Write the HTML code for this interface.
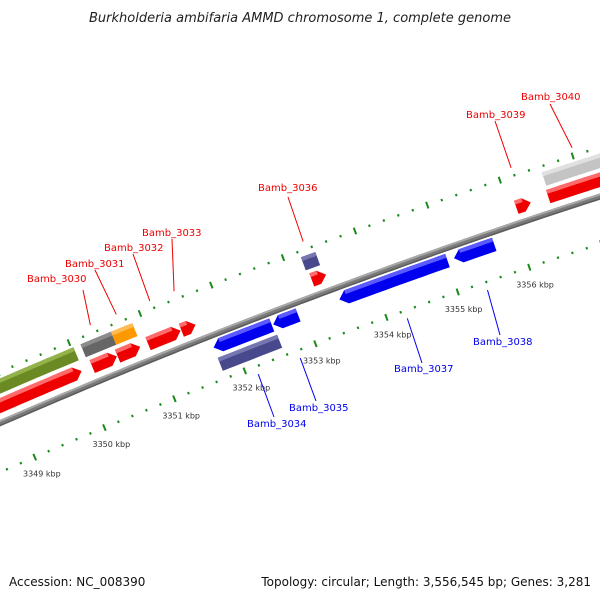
<!DOCTYPE html>
<html><head><meta charset="utf-8"><style>
html,body{margin:0;padding:0;background:#fff;}
svg{display:block;font-family:"DejaVu Sans","Liberation Sans",sans-serif;}
</style></head><body>
<svg id="chart" width="600" height="600" viewBox="0 0 600 600" xmlns="http://www.w3.org/2000/svg">
<text x="300" y="22" text-anchor="middle" font-size="13" font-style="italic" fill="#222">Burkholderia ambifaria AMMD chromosome 1, complete genome</text>
<g id="ticks"></g>
<g id="backbone"></g>
<g id="genes"></g>
<g id="labels"></g>
<text x="9" y="586" font-size="12" fill="#111">Accession: NC_008390</text>
<text x="591" y="586" text-anchor="end" font-size="12" fill="#111">Topology: circular; Length: 3,556,545 bp; Genes: 3,281</text>
</svg>
<script>
// ---- data ----
const geneNames  = ["g-green","Bamb_3030","Bamb_3031","g-red-a","g-red-b","g-red-c","Bamb_3032","Bamb_3033","Bamb_3036","g-red-d","Bamb_3039","Bamb_3040","g-red-e","Bamb_3035a","Bamb_3035","Bamb_3034","Bamb_3037","Bamb_3038"];
const geneStarts = [3345,3350.13,3350.56,3345,3350.16,3350.52,3350.95,3351.42,3353.22,3353.25,3356.09,3356.55,3356.53,3351.73,3352.57,3351.73,3353.50,3355.10];
const geneEnds   = [3350.03,3350.56,3350.86,3350.01,3350.51,3350.84,3351.41,3351.62,3353.42,3353.45,3356.29,3358.5,3358.5,3352.55,3352.92,3352.57,3355.01,3355.66];
const geneStrand = [0,0,0,1,1,1,1,1,0,1,1,0,1,-1,-1,0,-1,-1];
const geneRows   = ["f2","f2","f2","f1","f1","f1","f1","f1","f2","f1","f1","f2","f1","r1","r1","r2","r1","r1"];
const geneColors = ["green","gray","orange","red","red","red","red","red","purple","red","red","silver","red","blue","blue","purple","blue","blue"];
const tickLabels = [3349,3350,3351,3352,3353,3354,3355,3356];
const labelGenes = ["Bamb_3030","Bamb_3031","Bamb_3032","Bamb_3033","Bamb_3036","Bamb_3039","Bamb_3040","Bamb_3034","Bamb_3035","Bamb_3037","Bamb_3038"];
const labelTextX = [27,65,104,142,258,466,521,247,289,394,473];
const labelTextY = [282,267,251,236,191,118,100,427,411,372,345];
const labelLineX = [83,95,133,172,288,495,550,274,316,422,500];
const labelLineY = [290,270,254,239,197,121,104,417,401,363,335];

// ---- geometry ----
const R=6500, PXK=75.7, P0=[280,357], U0=[-0.3584,-0.9336];
const C=[P0[0]-R*U0[0], P0[1]-R*U0[1]];
const B0=Math.atan2(U0[1],U0[0]);
function toXY(p,r){const b=B0+(p-3352.5)*PXK/R;const q=R+r;return [C[0]+q*Math.cos(b),C[1]+q*Math.sin(b)];}
const rowBand={f2:[72,86],f1:[54,68],r1:[26,40],r2:[8,22]};
const pal={green:["#6b8a23","#93b24a"],gray:["#666666","#8c8c8c"],orange:["#ff9900","#ffbb55"],red:["#ee0000","#ff6a6a"],purple:["#48488c","#7676b0"],silver:["#c4c4c4","#e0e0e0"],blue:["#0000ee","#5a5aff"]};
const NS="http://www.w3.org/2000/svg";
function pts(a){return a.map(q=>q[0].toFixed(1)+","+q[1].toFixed(1)).join(" ");}
function edge(p0,p1,r){const out=[];const n=Math.max(1,Math.ceil((p1-p0)/0.1));for(let i=0;i<=n;i++)out.push(toXY(p0+(p1-p0)*i/n,r));return out;}
function shape(p0,p1,r0,r1,strand){
  const ah=Math.min(0.1,(p1-p0)*0.5), rm=(r0+r1)/2;
  if(strand===1){return [...edge(p0,p1-ah,r0),toXY(p1,rm),...edge(p0,p1-ah,r1).reverse()];}
  if(strand===-1){return [toXY(p0,rm),...edge(p0+ah,p1,r0),...edge(p0+ah,p1,r1).reverse()];}
  return [...edge(p0,p1,r0),...edge(p0,p1,r1).reverse()];
}
// ticks
const tg=document.getElementById('ticks');
[0,92].forEach(function(rr){
  for(let i=0;i<=55;i++){
    const p=3347+i*0.2; const major=Math.abs(p-Math.round(p))<1e-6;
    const h=major?3.5:1.2; const a=toXY(p,rr-h), b=toXY(p,rr+h);
    const l=document.createElementNS(NS,'line');
    
    
    l.setAttribute('x1',a[0]);l.setAttribute('y1',a[1]);l.setAttribute('x2',b[0]);l.setAttribute('y2',b[1]);
    l.setAttribute('stroke','#1a8a1a');l.setAttribute('stroke-width','2');
    tg.appendChild(l);
  }
});
tickLabels.forEach(function(k){
  const q=toXY(k,-18);
  const t=document.createElementNS(NS,'text');
  
  
  t.setAttribute('x',q[0]);t.setAttribute('y',q[1]+3);t.setAttribute('text-anchor','middle');
  t.setAttribute('font-size','8');t.setAttribute('fill','#333');
  t.textContent=k+' kbp';tg.appendChild(t);
});
// backbone
const bb=document.getElementById('backbone');
[[42,48,"#7a7a7a"],[46,48,"#a8a8a8"],[42,43.5,"#5c5c5c"]].forEach(function(b){
  const pg=document.createElementNS(NS,'polygon');
  
  
  pg.setAttribute('points',pts(shape(3345,3359,b[0],b[1],0)));pg.setAttribute('fill',b[2]);bb.appendChild(pg);
});
// genes
const gg=document.getElementById('genes');
geneNames.forEach(function(nm,i){
  const band=rowBand[geneRows[i]], c=pal[geneColors[i]];
  const g=document.createElementNS(NS,'g');
  
  
  const m=document.createElementNS(NS,'polygon');
  m.setAttribute('points',pts(shape(geneStarts[i],geneEnds[i],band[0],band[1],geneStrand[i])));
  m.setAttribute('fill',c[0]);g.appendChild(m);
  const t=document.createElementNS(NS,'polygon');
  const a=geneStrand[i]===1?Math.min(0.1,(geneEnds[i]-geneStarts[i])*0.5):0;
  const b=geneStrand[i]===-1?Math.min(0.1,(geneEnds[i]-geneStarts[i])*0.5):0;
  t.setAttribute('points',pts(shape(geneStarts[i]+b,geneEnds[i]-a,band[1]-4,band[1],0)));
  t.setAttribute('fill',c[1]);g.appendChild(t);
  gg.appendChild(g);
});
// labels
const lg=document.getElementById('labels');
labelGenes.forEach(function(nm,i){
  const gi=geneNames.indexOf(nm);
  const mid=(geneStarts[gi]+Math.min(geneEnds[gi],3357.5))/2;
  const rev=geneRows[gi][0]==='r';
  const an=toXY(mid,rev?-8:100);
  const col=rev?'#0000ee':'#ee0000';
  const l=document.createElementNS(NS,'line');
  
  
  l.setAttribute('x1',an[0]);l.setAttribute('y1',an[1]);l.setAttribute('x2',labelLineX[i]);l.setAttribute('y2',labelLineY[i]);
  l.setAttribute('stroke',col);l.setAttribute('stroke-width','1');lg.appendChild(l);
  const t=document.createElementNS(NS,'text');
  
  
  t.setAttribute('x',labelTextX[i]);t.setAttribute('y',labelTextY[i]);
  t.setAttribute('font-size','10');t.setAttribute('fill',col);
  t.textContent=nm;lg.appendChild(t);
});
</script>
</body></html>
